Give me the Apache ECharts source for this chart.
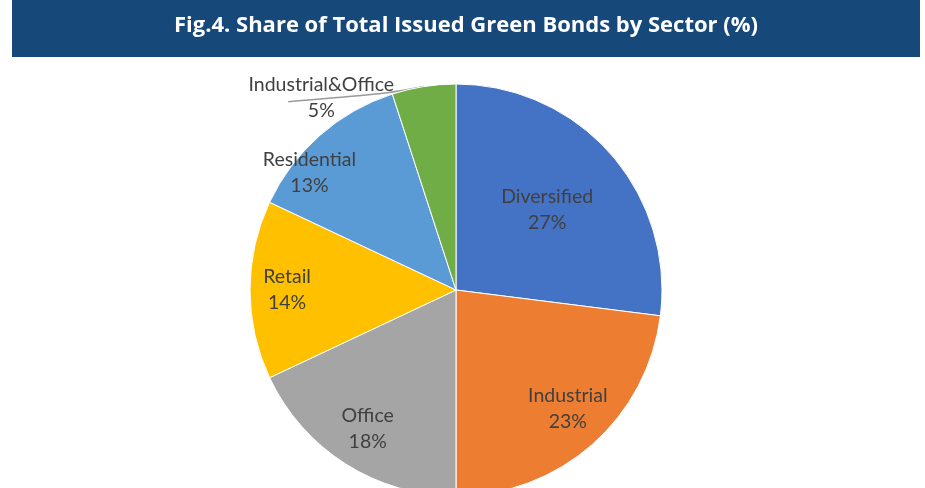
<!DOCTYPE html>
<html>
<head>
<meta charset="utf-8">
<script src="https://cdn.jsdelivr.net/npm/echarts@6/dist/echarts.min.js"></script>
<style>
  html, body { margin: 0; padding: 0; background: #ffffff; }
  #chart { width: 925px; height: 488px; }
</style>
</head>
<body>
<div id="chart"></div>
<script>
// Sector shares of total issued green bonds (%)
const sectors = ['Diversified', 'Industrial', 'Office', 'Retail', 'Residential', 'Industrial&Office'];
const shares = [27, 23, 18, 14, 13, 5];
const sectorColors = ['#4472C4', '#ED7D31', '#A5A5A5', '#FFC000', '#5B9BD5', '#70AD47'];
const titleText = 'Fig.4. Share of Total Issued Green Bonds by Sector (%)';

// Pie geometry (px)
const CX = 456, CY = 290, R = 206;
// Label placement: fraction of the radius and angular shift (deg) from each slice's middle
const labelRadius = [0.59, 0.79, 0.80, 0.82, 0.91, 1.14];
const labelShift = [0, -2, 0, 0, -10, -26];

const total = shares.reduce((a, b) => a + b, 0);
const midAngles = [];
let acc = 0;
shares.forEach(v => { midAngles.push((acc + v / 2) / total * 360); acc += v; });

function polar(rf, deg) {
  const t = deg * Math.PI / 180;
  return [CX + rf * R * Math.sin(t), CY - rf * R * Math.cos(t)];
}

const LABEL_FONT = 'Lato';
const TITLE_FONT = '"Open Sans"';

const chart = echarts.init(document.getElementById('chart'), null, { renderer: 'canvas' });

const pieData = sectors.map((name, i) => {
  const item = { name: name, value: shares[i], itemStyle: { color: sectorColors[i] } };
  if (i === sectors.length - 1) {
    item.label = { position: 'outside' };
    item.labelLine = { show: true, smooth: 0.4, lineStyle: { color: '#9A9A9A', width: 1.5 } };
  }
  return item;
});

chart.setOption({
  animation: false,
  backgroundColor: '#ffffff',
  graphic: [
    {
      type: 'rect',
      shape: { x: 12, y: 0, width: 908, height: 57 },
      style: { fill: '#16487A' },
      z: 0
    },
    {
      type: 'text',
      x: 466, y: 26,
      style: {
        text: titleText,
        fill: '#ffffff',
        font: 'bold 22px ' + TITLE_FONT,
        textAlign: 'center',
        textVerticalAlign: 'middle'
      },
      z: 1
    }
  ],
  series: [{
    type: 'pie',
    center: [CX, CY],
    radius: R,
    startAngle: 90,
    clockwise: true,
    data: pieData,
    itemStyle: { borderColor: '#ffffff', borderWidth: 1 },
    label: {
      show: true,
      position: 'inside',
      formatter: p => p.name + '\n' + p.value + '%',
      color: '#404040',
      fontFamily: LABEL_FONT,
      fontSize: 19.5,
      lineHeight: 26,
      align: 'center'
    },
    labelLine: { show: false },
    emphasis: { disabled: true },
    labelLayout: function (params) {
      const i = params.dataIndex;
      const p = polar(labelRadius[i], midAngles[i] + labelShift[i]);
      const out = { x: p[0], y: p[1], align: 'center', verticalAlign: 'middle' };
      if (i === sectors.length - 1) {
        const edge = polar(1, midAngles[i]);
        out.labelLinePoints = [edge, [p[0] + 66, p[1] - 4], [p[0] - 33, p[1] + 4]];
      }
      return out;
    }
  }]
});
</script>
</body>
</html>
